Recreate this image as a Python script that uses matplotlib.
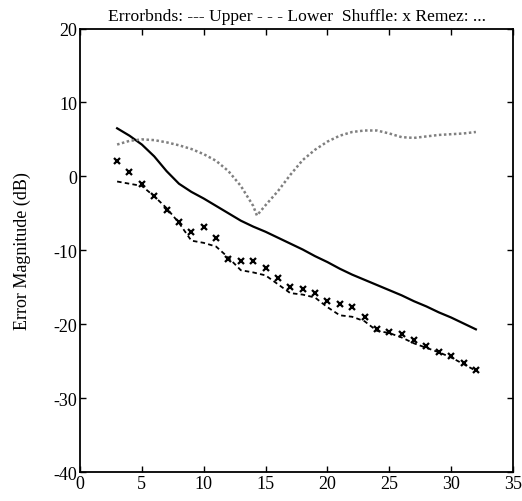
import matplotlib
matplotlib.use("Agg")
import matplotlib.pyplot as plt

# Data
x_vals = list(range(3, 33))
upper = [6.5, 5.5, 4.3, 2.7, 0.7, -1.0, -2.1, -3.0, -4.0, -5.0, -6.0, -6.8, -7.5, -8.3,
         -9.1, -9.9, -10.8, -11.6, -12.5, -13.3, -14.0, -14.7, -15.4, -16.1, -16.9,
         -17.6, -18.4, -19.1, -19.9, -20.7]
lower = [-0.7, -1.0, -1.3, -2.7, -4.3, -6.3, -8.7, -9.0, -9.5, -11.0, -12.7, -13.0,
         -13.4, -14.6, -15.8, -16.0, -16.4, -17.7, -18.8, -19.0, -19.6, -20.9, -21.2,
         -21.8, -22.6, -23.2, -23.8, -24.5, -25.4, -26.3]
shuffle = [2.1, 0.6, -1.0, -2.6, -4.5, -6.2, -7.5, -6.9, -8.3, -11.2, -11.5, -11.4,
           -12.4, -13.8, -15.0, -15.2, -15.8, -16.8, -17.3, -17.7, -19.0, -20.6, -21.0,
           -21.3, -22.2, -22.9, -23.7, -24.3, -25.2, -26.2]
remez_x = [3, 4, 5, 6, 7, 8, 9, 10, 11, 12, 13, 14, 14.3, 15, 16, 17, 18, 19, 20, 21,
           22, 23, 24, 25, 26, 27, 28, 29, 30, 31, 32]
remez = [4.3, 4.8, 5.0, 4.9, 4.6, 4.2, 3.7, 3.0, 2.1, 0.7, -1.3, -4.0, -5.3, -3.9, -2.0,
         0.2, 2.2, 3.6, 4.7, 5.5, 6.0, 6.2, 6.2, 5.8, 5.3, 5.2, 5.4, 5.6, 5.7, 5.8, 6.0]

xticks = [0, 5, 10, 15, 20, 25, 30, 35]
yticks = [-40, -30, -20, -10, 0, 10, 20]

plt.rcParams['font.family'] = ['Liberation Serif', 'DejaVu Serif']
plt.rcParams['axes.unicode_minus'] = False

fig = plt.figure(figsize=(5.22, 5.02), dpi=100)
ax = fig.add_axes([80/522, 1 - 473/502, (513 - 80)/522, (473 - 29.5)/502])

ax.plot(x_vals, upper, color='black', lw=1.6, ls='-')
ax.plot(x_vals, lower, color='black', lw=1.3, ls=(0, (2.5, 1.8)))
ax.plot(x_vals, shuffle, ls='none', marker='x', color='black', ms=5, mew=1.6)
ax.plot(remez_x, remez, color='#808080', lw=1.8, ls=(0, (1, 1)))

ax.set_xlim(0, 35)
ax.set_ylim(-40, 20)
ax.set_xticks(xticks)
ax.set_yticks(yticks)
ax.tick_params(direction='in', length=4, width=1, top=True, right=True,
               labelsize=13, pad=2)
for s in ax.spines.values():
    s.set_linewidth(1.3)

ax.set_ylabel('Error Magnitude (dB)', fontsize=13, labelpad=16)
ax.set_title('Errorbnds: --- Upper - - - Lower  Shuffle: x Remez: ...', fontsize=12.6, pad=6)

fig.savefig('out.png', dpi=100)
